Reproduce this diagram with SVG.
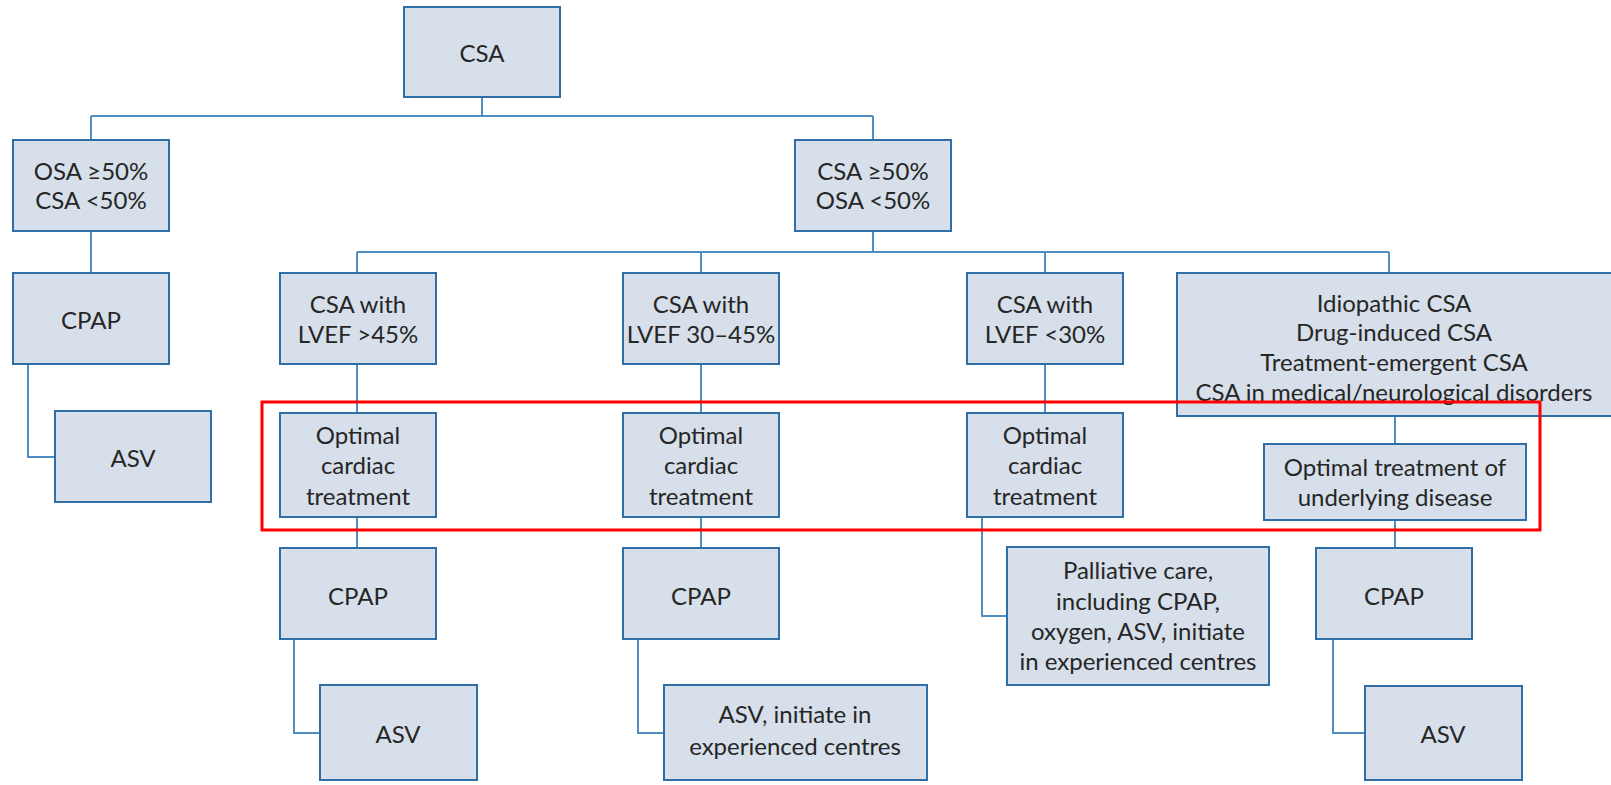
<svg xmlns="http://www.w3.org/2000/svg" width="1611" height="785" viewBox="0 0 1611 785">
  <style>
    .box { fill: #d6dfea; stroke: #2f6ea7; stroke-width: 2; }
    .lbl { font-family: Lato, "Noto Sans", "Liberation Sans", sans-serif; font-size: 24px; fill: #262626; text-anchor: middle; dominant-baseline: central; }
    .link { fill: none; stroke: #4f8dc2; stroke-width: 2; }
    .hl { fill: none; stroke: #ff0000; stroke-width: 3; }
  </style>
  <rect width="1611" height="785" fill="#ffffff"/>

  <g id="connectors">
    <path class="link" d="M482 97 V116 M91 116 H873 M91 116 V140 M873 116 V140"/>
    <path class="link" d="M91 231 V273"/>
    <path class="link" d="M28 364 V457 H55"/>
    <path class="link" d="M873 231 V252 M357 252 H1389 M357 252 V273 M701 252 V273 M1045 252 V273 M1389 252 V273"/>
    <path class="link" d="M357 364 V413 M701 364 V413 M1045 364 V413"/>
    <path class="link" d="M1395 416 V444"/>
    <path class="link" d="M357 517 V548 M701 517 V548"/>
    <path class="link" d="M982 517 V616 H1007"/>
    <path class="link" d="M1395 520 V548"/>
    <path class="link" d="M294 639 V733 H320"/>
    <path class="link" d="M638 639 V733 H664"/>
    <path class="link" d="M1333 639 V733 H1365"/>
  </g>

  <g id="csa">
    <rect class="box" x="404" y="7" width="156" height="90"/>
    <text class="lbl" x="482" y="52">CSA</text>
  </g>
  <g id="osa-dominant">
    <rect class="box" x="13" y="140" width="156" height="91"/>
    <text class="lbl" x="91" y="170">OSA ≥50%</text>
    <text class="lbl" x="91" y="199">CSA &lt;50%</text>
  </g>
  <g id="csa-dominant">
    <rect class="box" x="795" y="140" width="156" height="91"/>
    <text class="lbl" x="873" y="170">CSA ≥50%</text>
    <text class="lbl" x="873" y="199">OSA &lt;50%</text>
  </g>
  <g id="cpap-osa">
    <rect class="box" x="13" y="273" width="156" height="91"/>
    <text class="lbl" x="91" y="319">CPAP</text>
  </g>
  <g id="asv-osa">
    <rect class="box" x="55" y="411" width="156" height="91"/>
    <text class="lbl" x="133" y="457">ASV</text>
  </g>
  <g id="lvef-high">
    <rect class="box" x="280" y="273" width="156" height="91"/>
    <text class="lbl" x="358" y="303">CSA with</text>
    <text class="lbl" x="358" y="333">LVEF &gt;45%</text>
  </g>
  <g id="lvef-mid">
    <rect class="box" x="623" y="273" width="156" height="91"/>
    <text class="lbl" x="701" y="303">CSA with</text>
    <text class="lbl" x="701" y="333">LVEF 30–45%</text>
  </g>
  <g id="lvef-low">
    <rect class="box" x="967" y="273" width="156" height="91"/>
    <text class="lbl" x="1045" y="303">CSA with</text>
    <text class="lbl" x="1045" y="333">LVEF &lt;30%</text>
  </g>
  <g id="other-csa">
    <rect class="box" x="1177" y="273" width="440" height="143"/>
    <text class="lbl" x="1394" y="302">Idiopathic CSA</text>
    <text class="lbl" x="1394" y="331">Drug-induced CSA</text>
    <text class="lbl" x="1394" y="361">Treatment-emergent CSA</text>
    <text class="lbl" x="1394" y="391">CSA in medical/neurological disorders</text>
  </g>
  <g id="cardiac-high">
    <rect class="box" x="280" y="413" width="156" height="104"/>
    <text class="lbl" x="358" y="434">Optimal</text>
    <text class="lbl" x="358" y="464">cardiac</text>
    <text class="lbl" x="358" y="495">treatment</text>
  </g>
  <g id="cardiac-mid">
    <rect class="box" x="623" y="413" width="156" height="104"/>
    <text class="lbl" x="701" y="434">Optimal</text>
    <text class="lbl" x="701" y="464">cardiac</text>
    <text class="lbl" x="701" y="495">treatment</text>
  </g>
  <g id="cardiac-low">
    <rect class="box" x="967" y="413" width="156" height="104"/>
    <text class="lbl" x="1045" y="434">Optimal</text>
    <text class="lbl" x="1045" y="464">cardiac</text>
    <text class="lbl" x="1045" y="495">treatment</text>
  </g>
  <g id="underlying">
    <rect class="box" x="1264" y="444" width="262" height="76"/>
    <text class="lbl" x="1395" y="466">Optimal treatment of</text>
    <text class="lbl" x="1395" y="496">underlying disease</text>
  </g>
  <g id="cpap-high">
    <rect class="box" x="280" y="548" width="156" height="91"/>
    <text class="lbl" x="358" y="595">CPAP</text>
  </g>
  <g id="cpap-mid">
    <rect class="box" x="623" y="548" width="156" height="91"/>
    <text class="lbl" x="701" y="595">CPAP</text>
  </g>
  <g id="palliative">
    <rect class="box" x="1007" y="547" width="262" height="138"/>
    <text class="lbl" x="1138" y="569">Palliative care,</text>
    <text class="lbl" x="1138" y="600">including CPAP,</text>
    <text class="lbl" x="1138" y="630">oxygen, ASV, initiate</text>
    <text class="lbl" x="1138" y="660">in experienced centres</text>
  </g>
  <g id="cpap-other">
    <rect class="box" x="1316" y="548" width="156" height="91"/>
    <text class="lbl" x="1394" y="595">CPAP</text>
  </g>
  <g id="asv-high">
    <rect class="box" x="320" y="685" width="157" height="95"/>
    <text class="lbl" x="398" y="733">ASV</text>
  </g>
  <g id="asv-mid">
    <rect class="box" x="664" y="685" width="263" height="95"/>
    <text class="lbl" x="795" y="713">ASV, initiate in</text>
    <text class="lbl" x="795" y="745">experienced centres</text>
  </g>
  <g id="asv-other">
    <rect class="box" x="1365" y="686" width="157" height="94"/>
    <text class="lbl" x="1443" y="733">ASV</text>
  </g>

  <rect class="hl" x="262" y="402" width="1278" height="128"/>
</svg>
